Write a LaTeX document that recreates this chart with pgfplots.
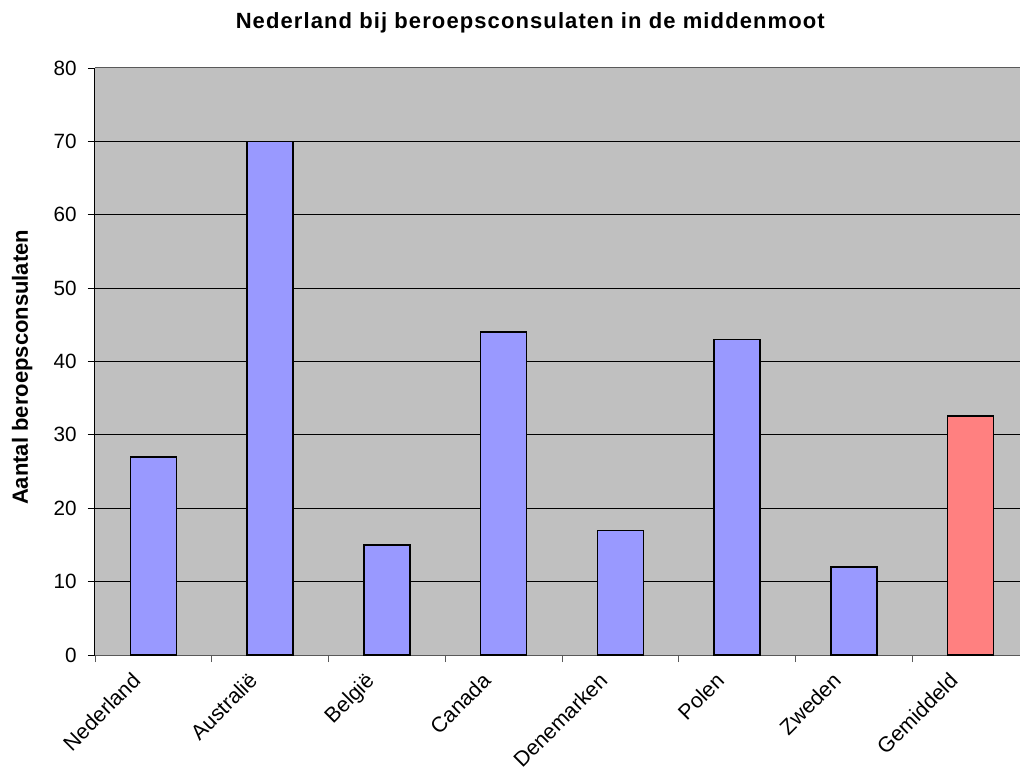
\documentclass[border=0pt]{standalone}
\usepackage{pgfplots}
\pgfplotsset{compat=1.18}
\usepackage{fontspec}
\setmainfont{Liberation Sans}
\newfontfamily\titlefont[LetterSpace=5]{Liberation Sans Bold}
\definecolor{barblue}{HTML}{9999FF}
\definecolor{barred}{HTML}{FF8080}
\definecolor{plotbg}{HTML}{C0C0C0}
\begin{document}
\begin{tikzpicture}
\begin{axis}[
  at={(0,0)}, anchor=south west,
  scale only axis,
  width=700.5pt, height=440.25pt,
  xmin=-0.5, xmax=7.5, ymin=0, ymax=80,
  ytick={0,10,...,80},
  xtick={0,...,7},
  xticklabels={Nederland,Australië,België,Canada,Denemarken,Polen,Zweden,Gemiddeld},
  minor xtick={-0.5,0.5,...,7.5},
  major x tick style={draw=none},
  minor x tick style={draw=gray!70!black, line width=0.7pt},
  y tick style={draw=black, line width=0.7pt},
  tick align=outside,
  major tick length=5.25pt, minor tick length=5.25pt,
  xtick pos=bottom, ytick pos=left,
  separate axis lines,
  x axis line style={draw=gray!70!black, line width=0.75pt},
  y axis line style={draw=black, line width=0.75pt},
  axis background/.style={fill=plotbg},
  extra y ticks={10,20,...,70},
  extra y tick labels={},
  extra y tick style={grid=major, major grid style={black, line width=0.75pt}},
  /pgf/number format/assume math mode=true,
  yticklabel style={font=\fontsize{15.5}{18}\selectfont, xshift=-5pt},
  xticklabel style={font=\fontsize{16}{19}\selectfont, rotate=45, anchor=north east, xshift=-13.5pt, yshift=10.5pt},
  ylabel={Aantal beroepsconsulaten},
  ylabel style={font=\bfseries\fontsize{16.5}{19}\selectfont, at={(axis description cs:-0.078,0.49)}, anchor=center, rotate=0},
  title={Nederland bij beroepsconsulaten in de middenmoot},
  title style={font=\titlefont\fontsize{16.5}{19}\selectfont, at={(axis description cs:0.466,1.064)}, anchor=center},
]
\addplot[ybar, bar shift=0pt, bar width=34.5pt, fill=barblue, draw=black, line width=1.1pt]
  coordinates {(0,27) (1,70) (2,15) (3,44) (4,17) (5,43) (6,12)};
\addplot[ybar, bar shift=0pt, bar width=34.5pt, fill=barred, draw=black, line width=1.1pt]
  coordinates {(7,32.57)};
\end{axis}
\pgfresetboundingbox
\path[use as bounding box] (-71.25pt,-87pt) rectangle (693.75pt,491.25pt);
\end{tikzpicture}
\end{document}
